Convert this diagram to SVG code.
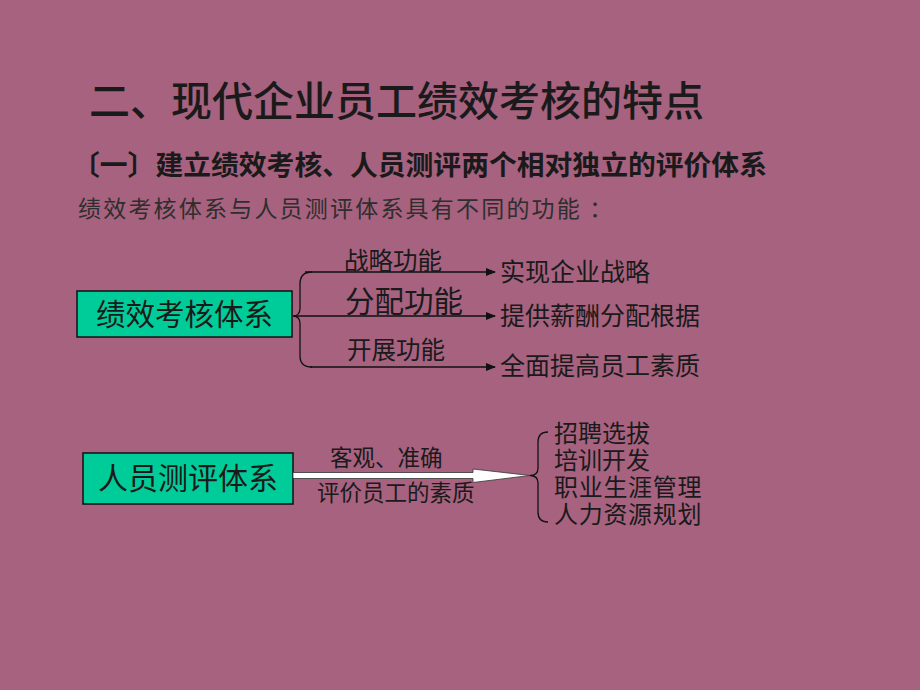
<svg xmlns="http://www.w3.org/2000/svg" width="920" height="690" viewBox="0 0 920 690">
<style>
.t{font-family:"Noto Sans CJK SC","Noto Sans CJK JP",sans-serif;fill:#1a1a1a}
.box{fill:#00CC99;stroke:#111;stroke-width:1.5}
.ln{stroke:#111;stroke-width:1.3;fill:none}
</style>
<defs>
<marker id="ah" markerWidth="10" markerHeight="8" refX="9" refY="4" orient="auto" markerUnits="userSpaceOnUse">
<path d="M0,0 L10,4 L0,8 Z" fill="#111"/>
</marker>
</defs>
<rect width="920" height="690" fill="#A6627F"/>
<text class="t" x="89" y="116" font-size="41" font-weight="500">二、现代企业员工绩效考核的特点</text>
<text class="t" x="72" y="175" font-size="27.8" font-weight="bold">〔一〕建立绩效考核、人员测评两个相对独立的评价体系</text>
<text class="t" x="78" y="217" font-size="23" letter-spacing="2.2" style="fill:#2e2e2e">绩效考核体系与人员测评体系具有不同的功能 ：</text>

<g id="node-perf">
<rect class="box" x="77" y="291" width="215" height="46"/>
<text class="t" x="184.5" y="325" font-size="29.5" text-anchor="middle">绩效考核体系</text>
</g>
<g id="node-assess">
<rect class="box" x="83" y="453" width="210" height="51"/>
<text class="t" x="188" y="489" font-size="30" text-anchor="middle">人员测评体系</text>
</g>

<g id="connectors">
<path class="ln" d="M312 272 Q300 272 300 284 L300 308 Q300 316 293 316 Q300 316 300 324 L300 356 Q300 367 312 367"/>
<line class="ln" x1="305" y1="272" x2="495" y2="272" marker-end="url(#ah)"/>
<line class="ln" x1="294" y1="316" x2="495" y2="316" marker-end="url(#ah)"/>
<line class="ln" x1="310" y1="367" x2="495" y2="367" marker-end="url(#ah)"/>
<path d="M293 472.5 L473 472.5 L473 469 L530 475.5 L473 482.5 L473 478.5 L293 478.5 Z" fill="#fff" stroke="#333" stroke-width="0.8"/>
<path class="ln" d="M548 432 Q538 432 538 442 L538 468 Q538 475.5 530 475.5 Q538 475.5 538 483 L538 512 Q538 522 548 522"/>
</g>

<g id="labels-perf">
<text class="t" x="344" y="270" font-size="24.5">战略功能</text>
<text class="t" x="345" y="312" font-size="29.5">分配功能</text>
<text class="t" x="347" y="359" font-size="24.5">开展功能</text>
<text class="t" x="500" y="281" font-size="25">实现企业战略</text>
<text class="t" x="500" y="325" font-size="25">提供薪酬分配根据</text>
<text class="t" x="500" y="375" font-size="25">全面提高员工素质</text>
</g>
<g id="labels-assess">
<text class="t" x="330" y="466" font-size="22.5">客观、准确</text>
<text class="t" x="317" y="501" font-size="22.5">评价员工的素质</text>
<text class="t" x="554" y="442" font-size="24">招聘选拔</text>
<text class="t" x="554" y="469" font-size="24">培训开发</text>
<text class="t" x="554" y="496" font-size="24" letter-spacing="0.7">职业生涯管理</text>
<text class="t" x="554" y="523" font-size="24" letter-spacing="0.7">人力资源规划</text>
</g>
</svg>
